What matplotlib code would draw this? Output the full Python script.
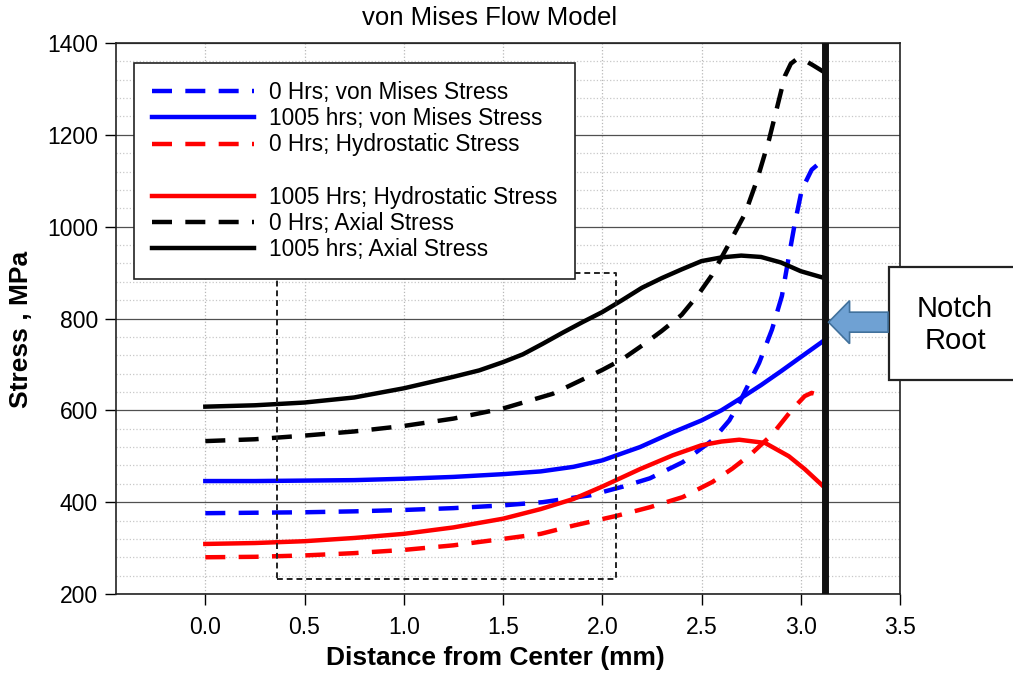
import numpy as np
import matplotlib
matplotlib.use("Agg")
import matplotlib.pyplot as plt
import matplotlib.patches as mpatches
from matplotlib.lines import Line2D
from matplotlib.ticker import MultipleLocator
from matplotlib.transforms import IdentityTransform

plt.rcParams['font.family'] = ['Liberation Sans', 'DejaVu Sans']

# =================================
# Data
# =================================
# 0 Hrs; von Mises Stress (blue dashed)
vm0_x = [0, 0.25, 0.5, 0.75, 1.0, 1.25, 1.5, 1.7, 1.94, 2.105, 2.24, 2.405,
         2.555, 2.64, 2.69, 2.79, 2.855, 2.905, 2.94, 2.97, 3.005, 3.055, 3.12]
vm0_y = [376, 377, 378, 380, 383, 387, 393, 400, 415, 434, 452, 487,
         535, 578, 616, 703, 776, 849, 935, 1007, 1080, 1124, 1148]

# 1005 hrs; von Mises Stress (blue solid)
vm1_x = [0, 0.25, 0.5, 0.75, 1.0, 1.25, 1.5, 1.69, 1.855, 2.0, 2.19, 2.355,
         2.5, 2.6, 2.7, 2.8, 2.9, 3.0, 3.12]
vm1_y = [446, 446, 447, 448, 451, 455, 461, 467, 477, 491, 520, 552,
         578, 600, 627, 655, 685, 716, 753]

# 0 Hrs; Hydrostatic Stress (red dashed)
hy0_x = [0, 0.25, 0.5, 0.75, 1.0, 1.25, 1.5, 1.69, 1.855, 2.07, 2.24, 2.405,
         2.555, 2.655, 2.75, 2.855, 2.955, 3.02, 3.055, 3.085, 3.12]
hy0_y = [280, 281, 284, 289, 296, 306, 320, 331, 349, 370, 389, 411,
         444, 473, 505, 547, 601, 631, 638, 634, 620]

# 1005 Hrs; Hydrostatic Stress (red solid)
hy1_x = [0, 0.25, 0.5, 0.75, 1.0, 1.25, 1.5, 1.69, 1.855, 2.0, 2.19, 2.355,
         2.5, 2.6, 2.69, 2.82, 2.94, 3.02, 3.12]
hy1_y = [309, 311, 315, 322, 331, 345, 364, 385, 407, 434, 472, 502,
         524, 532, 536, 529, 500, 472, 432]

# 0 Hrs; Axial Stress (black dashed)
ax0_x = [0, 0.25, 0.5, 0.75, 1.0, 1.25, 1.5, 1.75, 1.9, 2.0, 2.1, 2.2, 2.3,
         2.4, 2.48, 2.55, 2.63, 2.72, 2.78, 2.84, 2.89, 2.92, 2.95, 2.98,
         3.02, 3.06, 3.12]
ax0_y = [533, 537, 545, 554, 566, 582, 604, 636, 667, 688, 711, 741, 773,
         808, 850, 893, 956, 1029, 1102, 1189, 1276, 1328, 1355, 1365,
         1362, 1352, 1336]

# 1005 hrs; Axial Stress (black solid)
ax1_x = [0, 0.25, 0.5, 0.75, 1.0, 1.25, 1.38, 1.5, 1.6, 1.7, 1.8, 1.9, 2.0,
         2.1, 2.2, 2.3, 2.4, 2.5, 2.6, 2.7, 2.8, 2.9, 3.0, 3.12]
ax1_y = [608, 611, 617, 628, 648, 673, 687, 705, 722, 745, 769, 792, 814,
         840, 867, 888, 907, 925, 933, 937, 934, 922, 903, 888]

notch_x = 3.12
notch_y = 792
# dashed region box: x0, x1, y0, y1
box_x = [0.36, 2.07]
box_y = [233, 900]

labels = ["0 Hrs; von Mises Stress", "1005 hrs; von Mises Stress",
          "0 Hrs; Hydrostatic Stress", "1005 Hrs; Hydrostatic Stress",
          "0 Hrs; Axial Stress", "1005 hrs; Axial Stress"]

# =================================
# Figure
# =================================
fig = plt.figure(figsize=(10.13, 6.74), dpi=100)
ax = fig.add_axes([116 / 1013, 1 - 594 / 674, 784 / 1013, 551 / 674])

lw = 3.2
dash = (4.5, 3.0)
l1, = ax.plot(vm0_x, vm0_y, color='#0000ff', lw=lw, dashes=dash)
l2, = ax.plot(vm1_x, vm1_y, color='#0000ff', lw=lw)
l3, = ax.plot(hy0_x, hy0_y, color='#ff0000', lw=lw, dashes=dash)
l4, = ax.plot(hy1_x, hy1_y, color='#ff0000', lw=lw)
l5, = ax.plot(ax0_x, ax0_y, color='black', lw=lw, dashes=dash)
l6, = ax.plot(ax1_x, ax1_y, color='black', lw=lw)
for l in (l1, l2, l3, l4, l5, l6):
    l.set_solid_joinstyle('round')
    l.set_dash_joinstyle('round')

# notch root line
ax.axvline(notch_x, color='#111111', lw=5, zorder=5)

# dashed rectangle
ax.plot([box_x[0], box_x[1], box_x[1], box_x[0], box_x[0]],
        [box_y[0], box_y[0], box_y[1], box_y[1], box_y[0]],
        color='#222222', lw=1.4, ls=(0, (3, 2)))

ax.set_xlim(-0.45, 3.5)
ax.set_ylim(200, 1400)
ax.yaxis.set_major_locator(MultipleLocator(200))
ax.yaxis.set_minor_locator(MultipleLocator(40))
xt = np.arange(0, 3.51, 0.5)
ax.set_xticks(xt)
ax.set_xticklabels([f"{v:.1f}" for v in xt])

ax.yaxis.grid(True, which='major', ls='-', color='#505050', lw=0.9)
ax.yaxis.grid(True, which='minor', ls=':', color='#c8c8c8', lw=0.9)
ax.xaxis.grid(True, which='major', ls=':', color='#b8b8b8', lw=0.9)
ax.set_axisbelow(True)
ax.tick_params(which='major', direction='out', length=8, width=1,
               labelsize=16.5)
ax.tick_params(axis='x', pad=8)
ax.tick_params(axis='y', pad=5)
ax.tick_params(which='minor', length=0)
for s in ax.spines.values():
    s.set_linewidth(1.2)
    s.set_color('#222222')

ax.set_xlabel("Distance from Center (mm)", fontsize=19, fontweight='bold')
ax.xaxis.set_label_coords((495 - 116) / 784, -(658 - 594) / 551)
ax.xaxis.label.set_va('center')
ax.set_ylabel("Stress , MPa", fontsize=19, fontweight='bold')
ax.yaxis.set_label_coords((21 - 116) / 784, (594 - 329) / 551)
ax.yaxis.label.set_va('center')
fig.text(490 / 1013, 1 - 18 / 674, "von Mises Flow Model", fontsize=18.5,
         ha='center', va='center')

# legend with a blank row after the third entry
blank = Line2D([], [], color='none')
handles = [l1, l2, l3, blank, l4, l5, l6]
leg_labels = labels[:3] + [' '] + labels[3:]
leg = ax.legend(handles, leg_labels, loc='upper left',
                bbox_to_anchor=(18 / 784, 1 - 20 / 551), borderaxespad=0,
                fontsize=16.3, handlelength=4.5, handletextpad=0.65,
                labelspacing=0.14, borderpad=0.8, frameon=True,
                fancybox=False, edgecolor='#222222', framealpha=1)
leg.get_frame().set_linewidth(1.2)

# Notch Root callout box (runs off the right edge)
fig.add_artist(mpatches.Rectangle((889, 674 - 380), 140, 113,
                                  transform=IdentityTransform(),
                                  facecolor='white', edgecolor='#222222',
                                  lw=1.6, clip_on=False))
fig.text(955 / 1013, 1 - 325 / 674, "Notch\nRoot", fontsize=21,
         ha='center', va='center', linespacing=1.2)

# arrow pointing at the notch
tip = ax.transData.transform((notch_x, notch_y))
arrow = mpatches.FancyArrow(888, tip[1], tip[0] + 4 - 888, 0,
                            width=20, head_width=43, head_length=21,
                            length_includes_head=True,
                            transform=IdentityTransform(),
                            facecolor='#6fa1d3', edgecolor='#41719c', lw=1.2)
fig.add_artist(arrow)

fig.savefig("out.png", dpi=100)
